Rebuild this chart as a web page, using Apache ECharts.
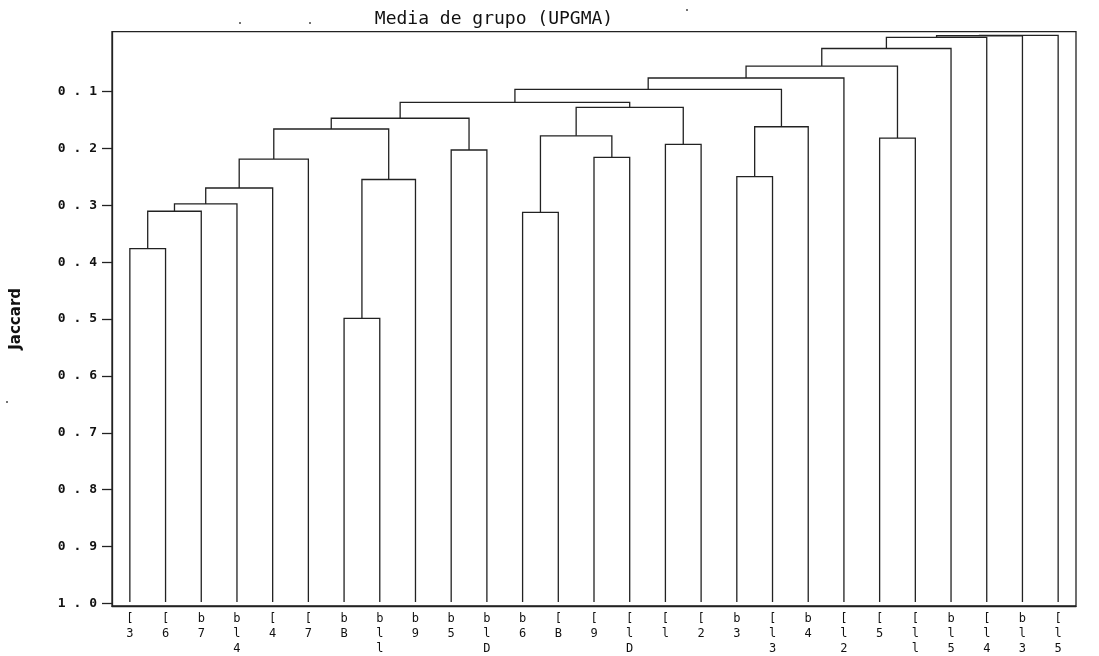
<!DOCTYPE html>
<html>
<head>
<meta charset="utf-8">
<script src="https://cdn.jsdelivr.net/npm/echarts@6/dist/echarts.min.js"></script>
<style>html,body{margin:0;padding:0;background:#fff;}#c{width:1099px;height:656px;}</style>
</head>
<body>
<div id="c"></div>
<script>
// Leaf labels (left to right)
const leafLabels = ['[3','[6','b7','bl4','[4','[7','bB','bll','b9','b5','blD','b6','[B','[9','[lD','[l','[2','b3','[l3','b4','[l2','[5','[ll','bl5','[l4','bl3','[l5'];
// Merges: node ids 0..26 are leaves, merge k creates node 27+k
const mergeLeft   = [0, 27, 28, 29, 30, 6, 32, 31, 9, 34, 11, 13, 37, 15, 39, 36, 17, 43, 42, 45, 21, 46, 48, 49, 50, 51];
const mergeRight  = [1, 2, 3, 4, 5, 7, 8, 33, 10, 35, 12, 14, 38, 16, 40, 41, 18, 19, 44, 20, 22, 47, 23, 24, 25, 26];
const mergeHeight = [0.377, 0.311, 0.298, 0.270, 0.219, 0.500, 0.255, 0.166, 0.203, 0.147, 0.313, 0.216, 0.178, 0.193, 0.128, 0.119, 0.250, 0.162, 0.096, 0.076, 0.182, 0.055, 0.024, 0.0045, 0.0015, 0.001];
const leafHeight = 1.0;
const yTickMin = 0.1, yTickMax = 1.0, yTickStep = 0.1;

// build node positions from the tree
const nLeaf = leafLabels.length;
const nodeX = [], nodeH = [];
for (let i = 0; i < nLeaf; i++) { nodeX.push(i); nodeH.push(leafHeight); }
const segData = [];
for (let k = 0; k < mergeLeft.length; k++) {
  const a = mergeLeft[k], b = mergeRight[k];
  segData.push([nodeX[a], nodeX[b], nodeH[a], nodeH[b], mergeHeight[k]]);
  nodeX.push((nodeX[a] + nodeX[b]) / 2);
  nodeH.push(mergeHeight[k]);
}

const chart = echarts.init(document.getElementById('c'), null, {renderer: 'canvas'});
const lineColor = '#222';
chart.setOption({
  animation: false,
  backgroundColor: '#fff',
  title: {
    text: 'Media de grupo (UPGMA)',
    left: 494, top: 10, textAlign: 'center', padding: 0,
    textStyle: {fontFamily: 'DejaVu Sans Mono', fontWeight: 'normal', fontSize: 18, color: '#111'}
  },
  grid: [
    {left: 112, right: 23, top: 31.7, bottom: 48.7, show: true, borderColor: lineColor, borderWidth: 1.3, backgroundColor: 'transparent'},
    {left: 112, right: 23, top: 91.7, bottom: 52.7, show: false}
  ],
  xAxis: [
    {type: 'category', gridIndex: 0, data: leafLabels, boundaryGap: true, position: 'bottom',
     axisLine: {show: true, onZero: false, lineStyle: {color: lineColor, width: 1.3}},
     axisTick: {show: false},
     axisLabel: {interval: 0, margin: 5, fontFamily: 'DejaVu Sans Mono', fontSize: 12, lineHeight: 15, color: '#111',
       formatter: s => s.split('').join('\n')}},
    {type: 'value', gridIndex: 0, min: -0.5, max: nLeaf - 0.5, show: false, axisLine: {onZero: false}},
    {type: 'value', gridIndex: 1, show: false, axisLine: {onZero: false}}
  ],
  yAxis: [
    {type: 'value', gridIndex: 0, inverse: true, min: -0.0056, max: 1.007, position: 'left',
     name: 'Jaccard', nameLocation: 'middle', nameGap: 88, nameRotate: 90,
     nameTextStyle: {fontFamily: 'DejaVu Sans', fontWeight: 'bold', fontSize: 15, color: '#111'},
     axisLine: {show: true, onZero: false, lineStyle: {color: lineColor, width: 1.3}},
     axisTick: {show: false}, axisLabel: {show: false}, splitLine: {show: false}},
    {type: 'value', gridIndex: 1, inverse: true, min: yTickMin, max: yTickMax, interval: yTickStep, position: 'left',
     axisLine: {show: false, onZero: false},
     axisTick: {show: true, length: 10, lineStyle: {color: lineColor, width: 1.3}},
     axisLabel: {margin: 15, fontFamily: 'DejaVu Sans Mono', fontWeight: 'bold', fontSize: 13, color: '#111',
       formatter: v => v.toFixed(1).split('').join(' ')},
     splitLine: {show: false}}
  ],
  graphic: [
    {type: 'circle', shape: {cx: 240, cy: 23, r: 1}, style: {fill: '#444'}},
    {type: 'circle', shape: {cx: 310, cy: 23, r: 1}, style: {fill: '#444'}},
    {type: 'circle', shape: {cx: 687, cy: 10, r: 1}, style: {fill: '#444'}},
    {type: 'circle', shape: {cx: 7, cy: 402, r: 1}, style: {fill: '#444'}}
  ],
  series: [{
    type: 'custom', xAxisIndex: 1, yAxisIndex: 0, data: segData, silent: true,
    encode: {x: [0, 1], y: [2, 3, 4]},
    renderItem: function (params, api) {
      const xL = api.value(0), xR = api.value(1), hL = api.value(2), hR = api.value(3), h = api.value(4);
      const p1 = api.coord([xL, hL]), p2 = api.coord([xL, h]), p3 = api.coord([xR, h]), p4 = api.coord([xR, hR]);
      return {type: 'polyline', shape: {points: [p1, p2, p3, p4]},
              style: {stroke: lineColor, lineWidth: 1.3, fill: null}};
    }
  }]
});
</script>
</body>
</html>
